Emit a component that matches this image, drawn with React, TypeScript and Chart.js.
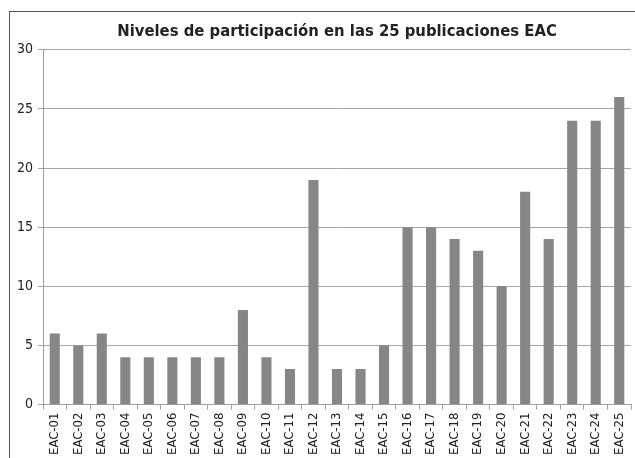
import React, { useEffect, useRef } from "react";
import { Chart, registerables } from "chart.js";

Chart.register(...registerables);

const TITLE = "Niveles de participación en las 25 publicaciones EAC";
const categories = [
  "EAC-01", "EAC-02", "EAC-03", "EAC-04", "EAC-05", "EAC-06", "EAC-07", "EAC-08", "EAC-09", "EAC-10",
  "EAC-11", "EAC-12", "EAC-13", "EAC-14", "EAC-15", "EAC-16", "EAC-17", "EAC-18", "EAC-19", "EAC-20",
  "EAC-21", "EAC-22", "EAC-23", "EAC-24", "EAC-25",
];
const values = [6, 5, 6, 4, 4, 4, 4, 4, 8, 4, 3, 19, 3, 3, 5, 15, 15, 14, 13, 10, 18, 14, 24, 24, 26];
const yTicks = [0, 5, 10, 15, 20, 25, 30];

const FONT = "'DejaVu Sans Condensed', 'Liberation Sans Narrow', sans-serif";

export default function App() {
  const ref = useRef<HTMLCanvasElement | null>(null);

  useEffect(() => {
    if (!ref.current) return;
    const chart = new Chart(ref.current, {
      type: "bar",
      data: {
        labels: categories,
        datasets: [
          {
            data: values,
            backgroundColor: "#868686",
            borderWidth: 0,
            categoryPercentage: 1,
            barPercentage: 0.43,
          },
        ],
      },
      options: {
        animation: false,
        responsive: false,
        devicePixelRatio: 1,
        layout: { padding: { left: 0, right: 4, top: 22, bottom: 0 } },
        plugins: {
          legend: { display: false },
          tooltip: { enabled: false },
          title: {
            display: true,
            fullSize: false,
            text: TITLE,
            color: "#222",
            font: { family: FONT, size: 16.5, weight: "bold", lineHeight: 1.2 },
            padding: { top: 0, bottom: 8 },
          },
        },
        scales: {
          x: {
            afterFit: (s: any) => {
              s.paddingRight = 0;
              s.paddingLeft = 0;
            },
            grid: {
              display: true,
              drawOnChartArea: false,
              drawTicks: true,
              tickLength: 5,
              color: "#a0a0a0",
              offset: true,
            },
            border: { display: true, color: "#a0a0a0" },
            ticks: {
              color: "#222",
              font: { family: FONT, size: 13 },
              minRotation: 90,
              maxRotation: 90,
              autoSkip: false,
              padding: 3,
            },
          },
          y: {
            min: 0,
            max: 30,
            afterFit: (s: any) => {
              s.width = 43;
            },
            afterBuildTicks: (s: any) => {
              s.ticks = yTicks.map((v) => ({ value: v }));
            },
            grid: {
              color: "#a6a6a6",
              tickLength: 5,
              drawTicks: true,
            },
            border: { display: true, color: "#a0a0a0" },
            ticks: {
              color: "#222",
              font: { family: FONT, size: 14 },
              padding: 5,
            },
          },
        },
      },
    });
    return () => chart.destroy();
  }, []);

  return (
    <div style={{ position: "absolute", left: 0, top: 0, width: 635, height: 458, background: "#fff", overflow: "hidden" }}>
      <div
        style={{
          position: "absolute",
          left: 9,
          top: 11,
          width: 700,
          height: 500,
          borderLeft: "1.5px solid #555",
          borderTop: "1.5px solid #555",
        }}
      />
      <canvas ref={ref} width={635} height={458} style={{ position: "absolute", left: 0, top: 0, width: 635, height: 458 }} />
    </div>
  );
}
